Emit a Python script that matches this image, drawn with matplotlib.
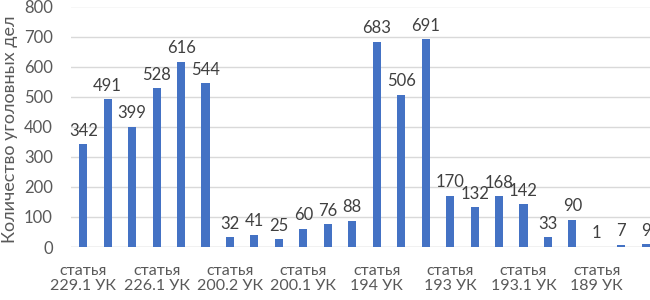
import numpy as np
import matplotlib
matplotlib.use("Agg")
from matplotlib import pyplot as plt

values = [342, 491, 399, 528, 616, 544, 32, 41, 25, 60, 76, 88,
          683, 506, 691, 170, 132, 168, 142, 33, 90, 1, 7, 9]
labels = ["статья\n229.1 УК", "статья\n226.1 УК", "статья\n200.2 УК", "статья\n200.1 УК",
          "статья\n194 УК", "статья\n193 УК", "статья\n193.1 УК", "статья\n189 УК"]

plt.rcParams['font.family'] = ['Lato', 'DejaVu Sans']
txt = '#595959'

fig = plt.figure(figsize=(6.5, 3), dpi=100)
ax = fig.add_axes([71 / 650, 53 / 300, 587 / 650, 240.5 / 300])

x = np.arange(len(values))
ax.bar(x, values, width=0.33, color='#4472C4', zorder=3)
for xi, v in zip(x, values):
    ax.annotate(str(v), (xi, v), xytext=(0, 4), textcoords='offset points',
                ha='center', va='bottom', fontsize=12, color='#404040')

ax.set_xlim(-0.5, len(values) - 0.5)
ax.set_ylim(0, 800)
ax.set_yticks(range(0, 801, 100))
ax.tick_params(axis='y', length=0, labelsize=12, labelcolor=txt, pad=13)
# Excel shows every third category label
ax.set_xticks(x[::3])
ax.set_xticklabels(labels, linespacing=1.15)
ax.tick_params(axis='x', length=0, labelsize=11.5, labelcolor=txt, pad=12)
ax.grid(axis='y', color='#D9D9D9', linewidth=1, zorder=0)
for s in ax.spines.values():
    s.set_visible(False)
ax.axhline(0, color='#D9D9D9', linewidth=1, zorder=1)

fig.text(10 / 650, 0.57, 'Количество уголовных дел', rotation=90,
         ha='center', va='center', fontsize=13, color=txt)

fig.savefig('out.png', dpi=100)
